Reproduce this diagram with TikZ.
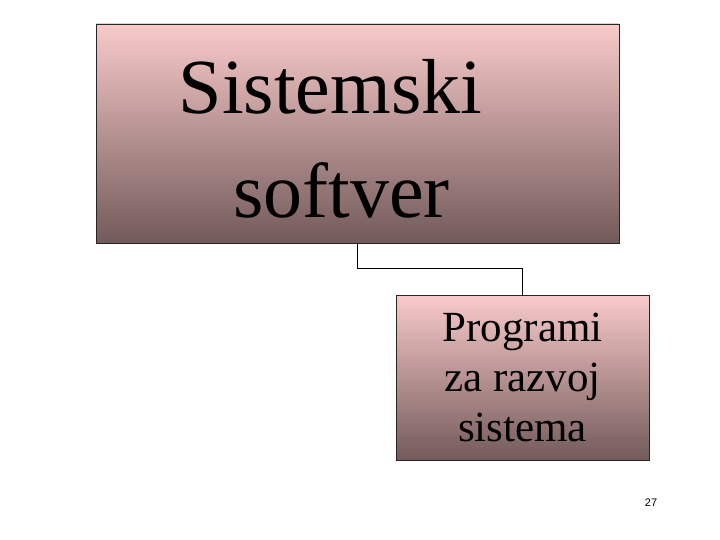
\documentclass[tikz,border=0pt]{standalone}
\usepackage{fontspec}
\setmainfont{Liberation Serif}
\newfontfamily\brojfont{Liberation Sans}
\definecolor{rozeGore}{HTML}{F9CACA}
\definecolor{rozeSredina}{HTML}{E0B4B4}
\definecolor{rozeDole}{HTML}{735A5A}
\begin{document}
\begin{tikzpicture}[x=1pt,y=-1pt,
	kutija/.style={draw=black!85,line width=0.8pt,top color=rozeGore,middle color=rozeSredina,bottom color=rozeDole,align=center,inner sep=0pt},
	veza/.style={line width=0.8pt}]
	\useasboundingbox (0,0) rectangle (720,540);
	%kutije
	\node [kutija,minimum width=523pt,minimum height=219pt,font=\fontsize{78}{104}\selectfont] (sis) at (357.5,133.5) {\rule{0pt}{64pt}Sistemski\hspace*{54pt}\\softver\hspace*{32pt}};
	\node [kutija,minimum width=253pt,minimum height=165pt,font=\fontsize{43}{50}\selectfont] (prog) at (522.5,377.5) {Programi\\za razvoj\\sistema};
	%veza
	\draw [veza] (sis.south) -- ++(0,25) -| (prog.north);
	%broj strane
	\node [font=\brojfont\fontsize{11}{13}\selectfont] (broj) at (651,503) {27};
\end{tikzpicture}
\end{document}
